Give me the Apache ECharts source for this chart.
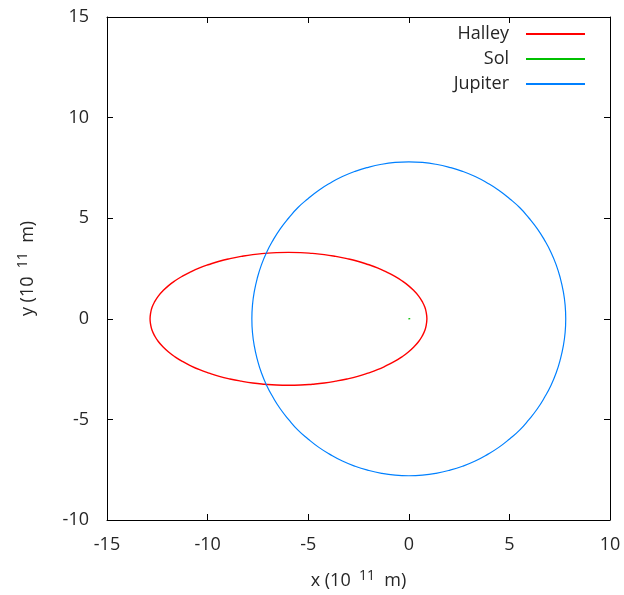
<!DOCTYPE html>
<html>
<head>
<meta charset="utf-8">
<script src="https://cdn.jsdelivr.net/npm/echarts@6/dist/echarts.min.js"></script>
<style>
  html, body { margin: 0; padding: 0; background: #fff; }
  #chart { width: 624px; height: 595px; }
</style>
</head>
<body>
<div id="chart"></div>
<script>
// Orbit positions in units of 10^11 m
const halley = [
  [0.90, 0.00], [0.87, 0.29], [0.80, 0.57], [0.67, 0.85], [0.49, 1.13],
  [0.26, 1.39], [-0.02, 1.65], [-0.34, 1.89], [-0.71, 2.12], [-1.12, 2.33],
  [-1.56, 2.53], [-2.03, 2.70], [-2.54, 2.86], [-3.07, 2.99], [-3.63, 3.10],
  [-4.20, 3.19], [-4.79, 3.25], [-5.38, 3.29], [-5.98, 3.30], [-6.58, 3.29],
  [-7.17, 3.25], [-7.76, 3.19], [-8.33, 3.10], [-8.89, 2.99], [-9.42, 2.86],
  [-9.93, 2.70], [-10.40, 2.53], [-10.85, 2.33], [-11.25, 2.12], [-11.62, 1.89],
  [-11.94, 1.65], [-12.22, 1.39], [-12.45, 1.13], [-12.63, 0.85], [-12.76, 0.57],
  [-12.83, 0.29], [-12.86, 0.00],
  [-12.83, -0.29], [-12.76, -0.57], [-12.63, -0.85], [-12.45, -1.13], [-12.22, -1.39],
  [-11.94, -1.65], [-11.62, -1.89], [-11.25, -2.12], [-10.85, -2.33], [-10.40, -2.53],
  [-9.93, -2.70], [-9.42, -2.86], [-8.89, -2.99], [-8.33, -3.10], [-7.76, -3.19],
  [-7.17, -3.25], [-6.58, -3.29], [-5.98, -3.30], [-5.38, -3.29], [-4.79, -3.25],
  [-4.20, -3.19], [-3.63, -3.10], [-3.07, -2.99], [-2.54, -2.86], [-2.03, -2.70],
  [-1.56, -2.53], [-1.12, -2.33], [-0.71, -2.12], [-0.34, -1.89], [-0.02, -1.65],
  [0.26, -1.39], [0.49, -1.13], [0.67, -0.85], [0.80, -0.57], [0.87, -0.29],
  [0.90, 0.00]
];

const sol = [[-0.02, 0.00], [0.03, 0.00], [0.07, 0.01]];

const jupiter = [
  [7.80, 0.00], [7.77, 0.68], [7.68, 1.35], [7.53, 2.02], [7.33, 2.67],
  [7.07, 3.30], [6.75, 3.90], [6.39, 4.47], [5.97, 5.01], [5.52, 5.52],
  [5.01, 5.97], [4.47, 6.39], [3.90, 6.75], [3.30, 7.07], [2.67, 7.33],
  [2.02, 7.53], [1.35, 7.68], [0.68, 7.77], [0.00, 7.80],
  [-0.68, 7.77], [-1.35, 7.68], [-2.02, 7.53], [-2.67, 7.33], [-3.30, 7.07],
  [-3.90, 6.75], [-4.47, 6.39], [-5.01, 5.97], [-5.52, 5.52], [-5.97, 5.01],
  [-6.39, 4.47], [-6.75, 3.90], [-7.07, 3.30], [-7.33, 2.67], [-7.53, 2.02],
  [-7.68, 1.35], [-7.77, 0.68], [-7.80, 0.00],
  [-7.77, -0.68], [-7.68, -1.35], [-7.53, -2.02], [-7.33, -2.67], [-7.07, -3.30],
  [-6.75, -3.90], [-6.39, -4.47], [-5.97, -5.01], [-5.52, -5.52], [-5.01, -5.97],
  [-4.47, -6.39], [-3.90, -6.75], [-3.30, -7.07], [-2.67, -7.33], [-2.02, -7.53],
  [-1.35, -7.68], [-0.68, -7.77], [0.00, -7.80],
  [0.68, -7.77], [1.35, -7.68], [2.02, -7.53], [2.67, -7.33], [3.30, -7.07],
  [3.90, -6.75], [4.47, -6.39], [5.01, -5.97], [5.52, -5.52], [5.97, -5.01],
  [6.39, -4.47], [6.75, -3.90], [7.07, -3.30], [7.33, -2.67], [7.53, -2.02],
  [7.68, -1.35], [7.77, -0.68], [7.80, 0.00]
];

const seriesNames = ['Halley', 'Sol', 'Jupiter'];
const xRange = [-15, 10];
const yRange = [-10, 15];
const tickStep = 5;

const FONT = 'Open Sans';
const TEXT = '#262626';

const chart = echarts.init(document.getElementById('chart'), null, { renderer: 'canvas' });

const supRich = {
  sup: { fontFamily: FONT, fontSize: 14, color: TEXT, verticalAlign: 'bottom', padding: [0, 0, 9, 0] },
  base: { fontFamily: FONT, fontSize: 18, color: TEXT }
};

function valueAxis(range, pos, extra) {
  return Object.assign({
    type: 'value',
    position: pos,
    min: range[0],
    max: range[1],
    interval: tickStep,
    splitLine: { show: false },
    axisLine: { show: true, onZero: false, lineStyle: { color: '#000', width: 1 } },
    axisTick: { show: true, inside: true, length: 6, lineStyle: { color: '#000' } },
    axisLabel: { show: true, fontFamily: FONT, fontSize: 18, color: TEXT, margin: 16 }
  }, extra || {});
}

const option = {
  backgroundColor: '#fff',
  animation: false,
  grid: { left: 107, right: 14, top: 17, bottom: 75, containLabel: false },
  legend: {
    orient: 'vertical',
    right: 39,
    top: 25,
    padding: 0,
    align: 'right',
    itemWidth: 59,
    itemHeight: 2,
    itemGap: 7,
    icon: 'rect',
    textStyle: { fontFamily: FONT, fontSize: 18, lineHeight: 18, color: TEXT, padding: [0, 12, 0, 0] },
    data: seriesNames
  },
  xAxis: [
    valueAxis(xRange, 'bottom', {
      name: '{base|x (10 }{sup| 11}{base|  m)}',
      nameLocation: 'middle',
      nameGap: 49,
      nameTextStyle: { rich: supRich }
    }),
    valueAxis(xRange, 'top', { axisLabel: { show: false } })
  ],
  yAxis: [
    valueAxis(yRange, 'left', {
      name: '{base|y (10 }{sup| 11}{base|  m)}',
      nameLocation: 'middle',
      nameGap: 68,
      nameRotate: 90,
      nameTextStyle: { rich: supRich },
      axisLabel: { show: true, fontFamily: FONT, fontSize: 18, color: TEXT, margin: 18 }
    }),
    valueAxis(yRange, 'right', { axisLabel: { show: false } })
  ],
  series: [
    {
      name: seriesNames[0], type: 'line', data: halley, smooth: true,
      showSymbol: false, symbol: 'none',
      lineStyle: { color: '#ff0000', width: 1.4 }, itemStyle: { color: '#ff0000' }
    },
    {
      name: seriesNames[1], type: 'line', data: sol,
      showSymbol: false, symbol: 'none',
      lineStyle: { color: '#00c000', width: 1.2 }, itemStyle: { color: '#00c000' }
    },
    {
      name: seriesNames[2], type: 'line', data: jupiter, smooth: true,
      showSymbol: false, symbol: 'none',
      lineStyle: { color: '#0080ff', width: 1.2 }, itemStyle: { color: '#0080ff' }
    }
  ]
};

chart.setOption(option);
</script>
</body>
</html>
